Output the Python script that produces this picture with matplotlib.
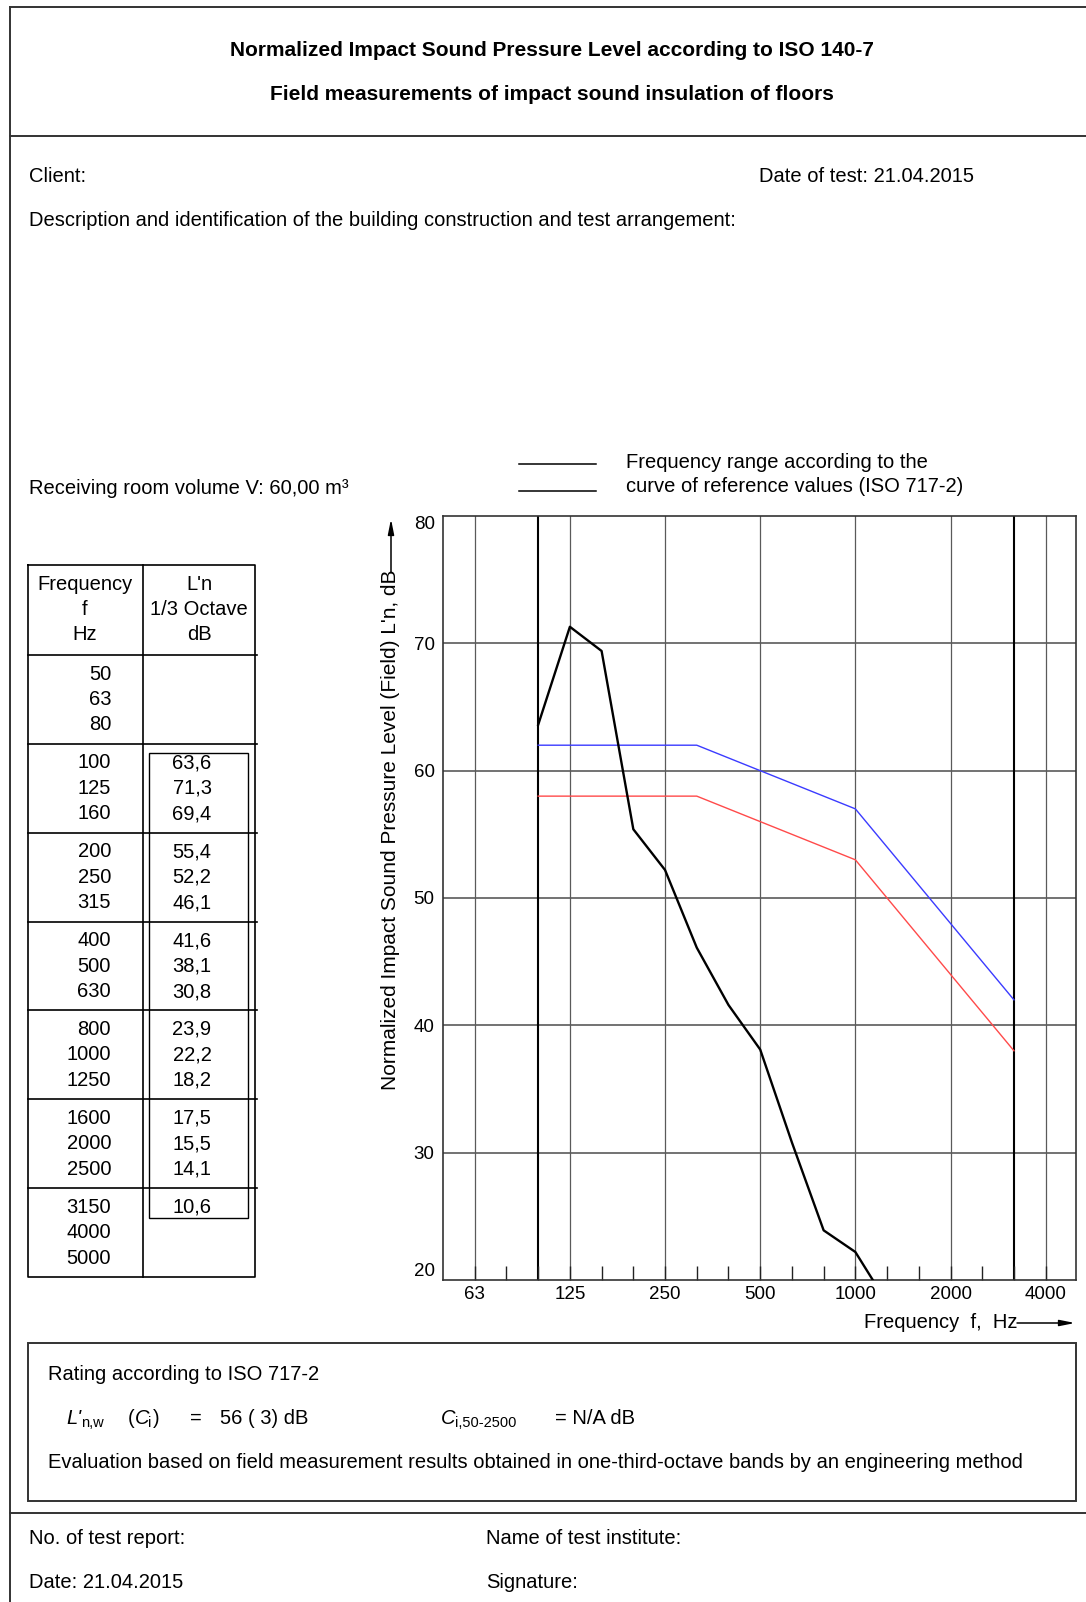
"""
Field test sheet: normalized impact sound pressure level (ISO 140-7)
with the ISO 717-2 reference curve, drawn as a one-page report.
"""

import matplotlib

matplotlib.use("Agg")
import matplotlib.pyplot as plt

# third-octave bands 50..5000 Hz (table rows and x axis positions)
BANDS_HZ = [50, 63, 80, 100, 125, 160, 200, 250, 315, 400, 500,
            630, 800, 1000, 1250, 1600, 2000, 2500, 3150, 4000, 5000]

# measured L'n in the reference frequency range
MEAS_BANDS_HZ = [100, 125, 160, 200, 250, 315, 400, 500,
                 630, 800, 1000, 1250, 1600, 2000, 2500, 3150]
LN_MEASURED = [63.6, 71.3, 69.4, 55.4, 52.2, 46.1, 41.6, 38.1,
               30.8, 23.9, 22.2, 18.2, 17.5, 15.5, 14.1, 10.6]

# ISO 717-2 reference curve (blue) and shifted reference curve (red)
REF_CURVE = [62, 62, 62, 62, 62, 62, 61, 60, 59, 58, 57, 54, 51, 48, 45, 42]
REF_SHIFTED = [58, 58, 58, 58, 58, 58, 57, 56, 55, 54, 53, 50, 47, 44, 41, 38]

OCTAVE_LABELS = ["63", "125", "250", "500", "1000", "2000", "4000"]
Y_TICKS = [20, 30, 40, 50, 60, 70, 80]

LNW = 56
CI = 3
TEST_DATE = "21.04.2015"
ROOM_VOLUME = "60,00"

W, H = 1086, 1602
FS = 14.5
SUB = 10.5
LINE = "#333333"

plt.rcParams["font.family"] = ["Liberation Sans", "DejaVu Sans"]


def band_pos(freq):
    return BANDS_HZ.index(freq)


def arrow(page, start, end):
    page.annotate("", xy=end, xytext=start,
                  arrowprops=dict(arrowstyle="-|>,head_length=0.9,head_width=0.18",
                                  color="black", lw=1.1, shrinkA=0, shrinkB=0))


def draw_page(page):
    """Frame lines and all the report text, in pixel coordinates."""
    lw = 1.4
    page.plot([10, 10], [7, H], color=LINE, lw=lw)
    for y in (7, 136, 1513):
        page.plot([10, W], [y, y], color=LINE, lw=lw)
    page.add_patch(plt.Rectangle((27.6, 1343), 1075.5 - 27.6, 1501 - 1343,
                                 fill=False, ec=LINE, lw=lw))

    page.text(552, 50, "Normalized Impact Sound Pressure Level according to ISO 140-7",
              ha="center", va="center", fontsize=15, fontweight="bold")
    page.text(552, 95, "Field measurements of impact sound insulation of floors",
              ha="center", va="center", fontsize=15, fontweight="bold")

    page.text(29, 177, "Client:", va="center", fontsize=FS)
    page.text(759, 177, f"Date of test: {TEST_DATE}", va="center", fontsize=FS)
    page.text(29, 221, "Description and identification of the building construction "
              "and test arrangement:", va="center", fontsize=FS)
    page.text(29, 488, f"Receiving room volume V: {ROOM_VOLUME} m\u00b3", va="center", fontsize=FS)

    # legend of the frequency range lines
    page.plot([519, 596], [464, 464], color="black", lw=1.1)
    page.plot([519, 596], [491, 491], color="black", lw=1.1)
    page.text(626, 463, "Frequency range according to the", va="center", fontsize=FS)
    page.text(626, 486, "curve of reference values (ISO 717-2)", va="center", fontsize=FS)

    # y axis title with arrow
    page.text(391, 570, "Normalized Impact Sound Pressure Level (Field) L'n, dB",
              rotation=90, ha="center", va="top", fontsize=15)
    arrow(page, (391, 572), (391, 519))
    # x axis title with arrow
    y = 1323
    page.text(1017, y, "Frequency  f,  Hz", ha="right", va="center", fontsize=FS)
    arrow(page, (1017, y), (1075, y))

    # rating box
    page.text(48, 1374, "Rating according to ISO 717-2", va="center", fontsize=FS)
    y = 1418
    page.text(66, y, "L'", va="center", fontsize=FS, style="italic")
    page.text(81, y + 5, "n,w", va="center", fontsize=SUB)
    page.text(128, y, "(", va="center", fontsize=FS)
    page.text(135, y, "C", va="center", fontsize=FS, style="italic")
    page.text(148, y + 5, "i", va="center", fontsize=SUB)
    page.text(153, y, ")", va="center", fontsize=FS)
    page.text(190, y, "=", va="center", fontsize=FS)
    page.text(220, y, f"{LNW} ( {CI}) dB", va="center", fontsize=FS)
    page.text(441, y, "C", va="center", fontsize=FS, style="italic")
    page.text(455, y + 5, "i,50-2500", va="center", fontsize=SUB)
    page.text(555, y, "= N/A dB", va="center", fontsize=FS)
    page.text(48, 1463, "Evaluation based on field measurement results obtained in "
              "one-third-octave bands by an engineering method", va="center", fontsize=FS)

    page.text(29, 1538, "No. of test report:", va="center", fontsize=FS)
    page.text(486, 1538, "Name of test institute:", va="center", fontsize=FS)
    page.text(29, 1583, f"Date: {TEST_DATE}", va="center", fontsize=FS)
    page.text(486, 1583, "Signature:", va="center", fontsize=FS)


def draw_table(page):
    """Table of the third-octave results on the left."""
    x0, xm, x1 = 27.6, 143, 255.4
    top, head = 565, 655
    step = (1277 - head) / 7
    lw = 1.2
    page.plot([x0, x1, x1, x0, x0], [top, top, 1277, 1277, top], color="black", lw=lw)
    page.plot([xm, xm], [top, 1277], color="black", lw=lw)
    for k in range(7):
        y = head + k * step
        page.plot([x0, x1 + 2], [y, y], color="black", lw=lw)

    for i, txt in enumerate(["Frequency", "f", "Hz"]):
        page.text(85, 584 + 25.5 * i, txt, ha="center", va="center", fontsize=FS)
    for i, txt in enumerate(["L'n", "1/3 Octave", "dB"]):
        page.text(199, 584 + 25.5 * i, txt, ha="center", va="center", fontsize=FS)

    values = dict(zip(MEAS_BANDS_HZ, LN_MEASURED))
    for j, f in enumerate(BANDS_HZ):
        g, r = divmod(j, 3)
        y = head + g * step + 19 + 25.5 * r
        page.text(111, y, str(f), ha="right", va="center", fontsize=FS)
        if f in values:
            page.text(192, y, f"{values[f]:.1f}".replace(".", ","),
                      ha="center", va="center", fontsize=FS)

    page.add_patch(plt.Rectangle((149, 753), 248 - 149, 1218 - 753,
                                 fill=False, ec="black", lw=1.0))


def draw_chart(fig):
    left, right, top, bottom = 443, 1075.5, 516, 1280
    ax = fig.add_axes([left / W, 1 - bottom / H, (right - left) / W, (bottom - top) / H])

    meas_x = [band_pos(f) for f in MEAS_BANDS_HZ]
    oct_x = [band_pos(int(s)) for s in OCTAVE_LABELS]

    for y in Y_TICKS[1:-1]:
        ax.axhline(y, color="#5a5a5a", lw=1.2, zorder=1)
    for x in oct_x:
        ax.axvline(x, color="#5a5a5a", lw=0.9, zorder=1)
    for f in (MEAS_BANDS_HZ[0], MEAS_BANDS_HZ[-1]):
        ax.axvline(band_pos(f), color="black", lw=1.5, zorder=1)

    ax.plot(meas_x, REF_CURVE, color="#3b3bff", lw=1.0, zorder=2)
    ax.plot(meas_x, REF_SHIFTED, color="#ff4a4a", lw=1.0, zorder=2)
    ax.plot(meas_x, LN_MEASURED, color="black", lw=1.7, zorder=3)

    ax.set_xlim(0, 19.94)
    ax.set_ylim(Y_TICKS[0], Y_TICKS[-1])

    ax.set_xticks(oct_x)
    ax.set_xticklabels(OCTAVE_LABELS, fontsize=13.5)
    ax.set_xticks([band_pos(f) for f in BANDS_HZ[1:-1] if band_pos(f) not in oct_x], minor=True)
    ax.tick_params(axis="x", which="both", direction="in", length=10, width=1.0,
                   color="#222222", pad=4)
    ax.set_yticks(Y_TICKS)
    ax.set_yticklabels([str(v) for v in Y_TICKS], fontsize=13.5)
    ax.tick_params(axis="y", length=0, pad=6)
    labels = ax.get_yticklabels()
    labels[0].set_va("bottom")
    labels[-1].set_va("top")

    for sp in ax.spines.values():
        sp.set_color("#333333")
        sp.set_linewidth(1.2)
    return ax


def main():
    fig = plt.figure(figsize=(W / 100, H / 100), dpi=100)
    fig.patch.set_facecolor("white")
    page = fig.add_axes([0, 0, 1, 1])
    page.set_xlim(0, W)
    page.set_ylim(H, 0)
    page.axis("off")

    draw_page(page)
    draw_table(page)
    draw_chart(fig)

    fig.savefig("out.png", dpi=100, facecolor="white")
    plt.close(fig)


if __name__ == "__main__":
    main()
